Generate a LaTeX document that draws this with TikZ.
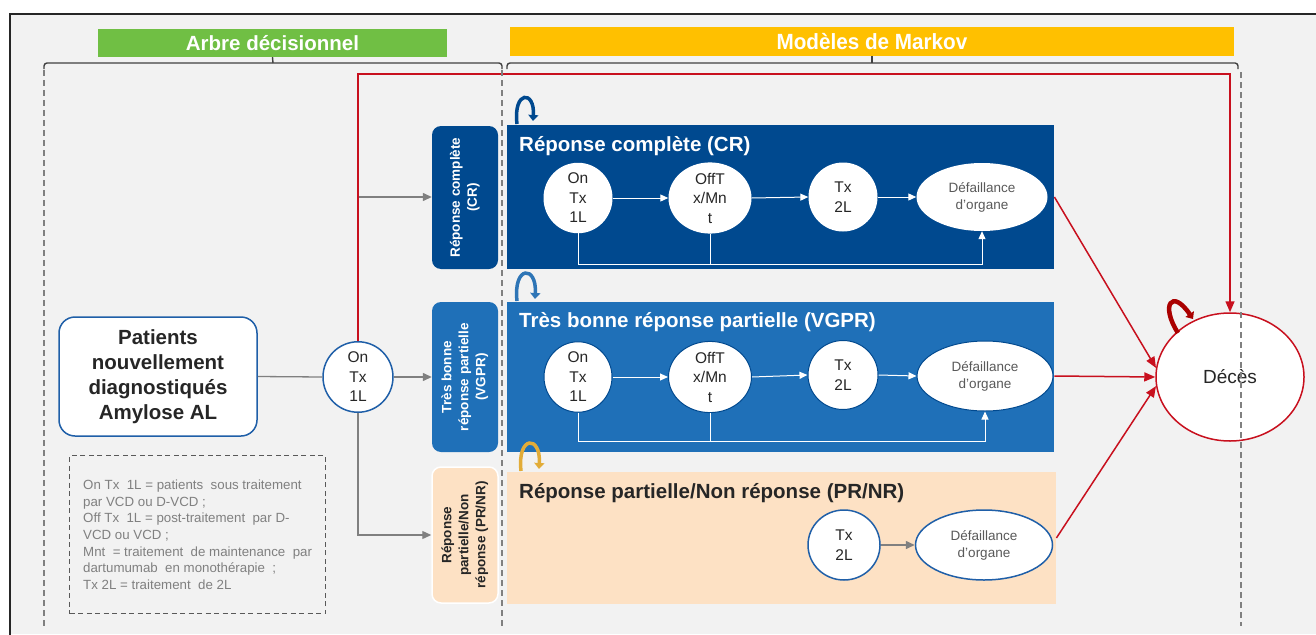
\documentclass[tikz,border=0pt]{standalone}
\usepackage{fontspec}
\setmainfont{Liberation Sans}
\usetikzlibrary{arrows.meta,shapes.geometric}
\definecolor{bg}{RGB}{242,242,242}
\definecolor{crblue}{RGB}{0,73,143}
\definecolor{vgblue}{RGB}{31,112,184}
\definecolor{vgloop}{RGB}{46,117,182}
\definecolor{peach}{RGB}{253,225,196}
\definecolor{nblue}{RGB}{31,95,168}
\definecolor{dred}{RGB}{200,16,30}
\definecolor{loopred}{RGB}{170,0,0}
\definecolor{gline}{RGB}{128,128,128}
\definecolor{greenbar}{RGB}{112,191,68}
\definecolor{yellowbar}{RGB}{255,192,0}
\definecolor{goldloop}{RGB}{226,172,56}
\definecolor{txt}{RGB}{38,38,38}
\definecolor{ltxt}{RGB}{89,89,89}
\definecolor{legtxt}{RGB}{128,128,128}
\definecolor{bracecol}{RGB}{64,64,64}
\newcommand\fs[2]{\fontsize{#1}{#2}\selectfont}
\begin{document}
\begin{tikzpicture}[x=1pt,y=-1pt,
  circ/.style={ellipse, inner sep=0pt, align=center, font=\fs{15.5}{19.5}, text=txt, fill=white},
  defn/.style={ellipse, inner sep=0pt, align=center, font=\fs{13.5}{17}, text=ltxt, fill=white},
  panel/.style={inner sep=0pt, anchor=north west},
  side/.style={rounded corners=9pt, inner sep=0pt, minimum width=66},
  ptitle/.style={anchor=base west, inner sep=0pt, font=\bfseries\fs{20.5}{24}},
  bar/.style={inner sep=0pt, text=white},
  garrow/.style={draw=gline, line width=1.3pt, -{Triangle[length=9pt,width=8pt]}},
  gline/.style={draw=gline, line width=1.3pt},
  warrow/.style={draw=white, line width=1pt, -{Triangle[length=8pt,width=7pt]}},
  wline/.style={draw=white, line width=1pt},
  rarrow/.style={draw=dred, line width=1.5pt, -{Triangle[length=11pt,width=9pt]}},
  bracestyle/.style={draw=bracecol, line width=1.4pt},
  dashln/.style={draw=gline, line width=1.4pt, dash pattern=on 6pt off 4pt},
  loopln/.style={line width=3.5pt, -{Triangle[length=6pt,width=10pt]}}
]
\useasboundingbox (0,0) rectangle (1316,634);
\fill[white] (0,0) rectangle (1316,634);
\fill[bg] (10,14) rectangle (1316,634);
\draw[black!85, line width=2pt] (10,640) -- (10,14) -- (1320,14);

% header bars
\node[bar, fill=greenbar, minimum width=349, minimum height=28, font=\bfseries\fs{20.5}{24}] (arbre) at (272.5,43) {Arbre décisionnel};
\node[bar, fill=yellowbar, minimum width=724, minimum height=29, font=\bfseries\fs{22}{26}] (markov) at (872,41.5) {\scalebox{0.94}[1]{Modèles de Markov}};

% braces
\draw[bracestyle, rounded corners=3pt] (44,69) -- (44,63) -- (502,63) -- (502,69);
\draw[bracestyle] (273,63) -- (arbre.south);
\draw[bracestyle, rounded corners=3pt] (507,69) -- (507,63) -- (1238,63) -- (1238,69);
\draw[bracestyle] (872,63) -- (markov.south);

% panels
\node[panel, fill=crblue, minimum width=547, minimum height=144] (crp) at (507,125) {};
\node[panel, fill=vgblue, minimum width=547, minimum height=150] (vgp) at (507,302) {};
\node[panel, fill=peach, minimum width=549, minimum height=132] (prp) at (507,472) {};

\node[ptitle, text=white] (crt) at (519,151) {Réponse complète (CR)};
\node[ptitle, text=white] (vgt) at (519,327) {Très bonne réponse partielle (VGPR)};
\node[ptitle, text=txt] (prt) at (519,498) {Réponse partielle/Non réponse (PR/NR)};

% side boxes
\node[side, fill=crblue, minimum height=143, text=white, font=\bfseries\fs{13.5}{17}] (crs) at (465,197.5)
  {\rotatebox{90}{\begin{tabular}{@{}c@{}}Réponse complète\\(CR)\end{tabular}}};
\node[side, fill=vgblue, minimum height=150, text=white, font=\bfseries\fs{13.5}{17}] (vgs) at (465,377)
  {\rotatebox{90}{\begin{tabular}{@{}c@{}}Très bonne\\réponse partielle\\(VGPR)\end{tabular}}};
\node[side, fill=peach, draw=white, line width=1.5pt, minimum height=136, text=txt, font=\bfseries\fs{13.5}{17}] (prs) at (465,535)
  {\rotatebox{90}{\begin{tabular}{@{}c@{}}Réponse\\partielle/Non\\réponse (PR/NR)\end{tabular}}};

% patients + first node
\node[draw=nblue, line width=1.5pt, fill=white, rounded corners=16pt, minimum width=198, minimum height=119,
      align=center, font=\bfseries\fs{20.5}{25}, text=txt, inner sep=0pt] (pat) at (158,376.5)
  {Patients\\nouvellement\\diagnostiqués\\Amylose AL};
\node[circ, draw=nblue, line width=1.5pt, minimum width=70, minimum height=70] (on0) at (358,377) {On\\Tx\\1L};

% legend
\node[draw=ltxt, line width=1.3pt, dash pattern=on 5pt off 3.5pt, minimum width=256, minimum height=158,
      inner sep=0pt, anchor=north west] (leg) at (69,455) {};
\node[anchor=north west, inner sep=0pt, align=left, font=\fs{13.3}{16.7}, text=legtxt] (legt) at (83,479.5)
  {On Tx~ 1L = patients~ sous traitement\\par VCD ou D-VCD ;\\Off Tx~ 1L = post-traitement~ par D-\\VCD ou VCD ;\\Mnt~ = traitement~ de maintenance~ par\\dartumumab~ en monothérapie~ ;\\Tx 2L = traitement~ de 2L};

% CR row
\node[circ, minimum width=69, minimum height=70] (cron) at (578,198) {On\\Tx\\1L};
\node[circ, minimum width=83, minimum height=70] (croff) at (710,198) {OffT\\x/Mn\\t};
\node[circ, minimum width=69, minimum height=69] (crtx) at (843,197) {Tx\\2L};
\node[defn, minimum width=131, minimum height=68] (crdef) at (982,197) {Défaillance\\d’organe};

% VGPR row
\node[circ, draw=crblue, line width=1pt, minimum width=68, minimum height=66] (vgon) at (578,377) {On\\Tx\\1L};
\node[circ, draw=crblue, line width=1pt, minimum width=83, minimum height=68] (vgoff) at (710,377) {OffT\\x/Mn\\t};
\node[circ, draw=crblue, line width=1pt, minimum width=70, minimum height=69] (vgtx) at (843,375) {Tx\\2L};
\node[defn, draw=crblue, line width=1pt, minimum width=136, minimum height=70] (vgdef) at (985,376) {Défaillance\\d’organe};

% PR row
\node[circ, draw=nblue, line width=1.5pt, minimum width=72, minimum height=70] (prtx) at (844,545) {Tx\\2L};
\node[defn, draw=nblue, line width=1.5pt, minimum width=137, minimum height=70] (prdef) at (984,545) {Défaillance\\d’organe};

% Deces
\node[ellipse, draw=dred, line width=1.5pt, fill=white, minimum width=148, minimum height=128, inner sep=0pt,
      font=\fs{19}{23}, text=txt] (dec) at (1230,377) {Décès};

% connectors from patients / first node
\draw[gline] (pat.east) -- (on0.west);
\coordinate (b1) at (358,197);
\draw[garrow] (b1) -- (crs.west |- b1);
\draw[garrow] (on0.east) -- (vgs.west);
\draw[garrow] (on0.south) |- (prs.west);
\coordinate (rtop1) at (358,74);
\coordinate (rtop2) at (1230,74);
\draw[rarrow, line width=1.6pt] (on0.north) -- (rtop1) -- (rtop2) -- (dec.north);

% CR internal
\draw[warrow] (cron.east) -- (croff.west);
\draw[warrow] (croff.east) -- (crtx.west);
\draw[warrow] (crtx.east) -- (crdef.west);
\coordinate (crb1) at (578,264);
\coordinate (crb2) at (982,264);
\draw[warrow] (cron.south) -- (crb1) -- (crb2) -- (crdef.south);
\draw[wline] (croff.south) -- (croff.south |- crb1);

% VGPR internal
\draw[warrow] (vgon.east) -- (vgoff.west);
\draw[warrow] (vgoff.east) -- (vgtx.west);
\draw[warrow] (vgtx.east) -- (vgdef.west);
\coordinate (vgb1) at (578,441);
\coordinate (vgb2) at (985,441);
\draw[warrow] (vgon.south) -- (vgb1) -- (vgb2) -- (vgdef.south);
\draw[wline] (vgoff.south) -- (vgoff.south |- vgb1);

% PR internal
\draw[garrow, line width=1.5pt] (prtx.east) -- (prdef.west);

% red arrows to Deces
\draw[rarrow] (crp.east |- crdef.east) -- (dec.173);
\draw[rarrow] (vgp.east |- vgdef.east) -- (dec.west);
\draw[rarrow] (prp.east |- 0,538) -- (dec.187);

% self loops
\draw[loopln, draw=crblue] (517,124) .. controls (513,90) and (535,90) .. (533,121);
\draw[loopln, draw=vgloop] (517,301) .. controls (513,265) and (537,265) .. (535,299);
\draw[loopln, draw=goldloop] (521,471) .. controls (517,435) and (541,435) .. (539,469);
\draw[loopln, line width=4.5pt, draw=loopred] (1178,333) .. controls (1160,305) and (1172,288) .. (1193,319);

% dashed separators
\draw[dashln] (44,70) -- (44,626);
\draw[dashln] (502,70) -- (502,626);
\draw[dashln] (1241,72) -- (1241,626);
\end{tikzpicture}
\end{document}
